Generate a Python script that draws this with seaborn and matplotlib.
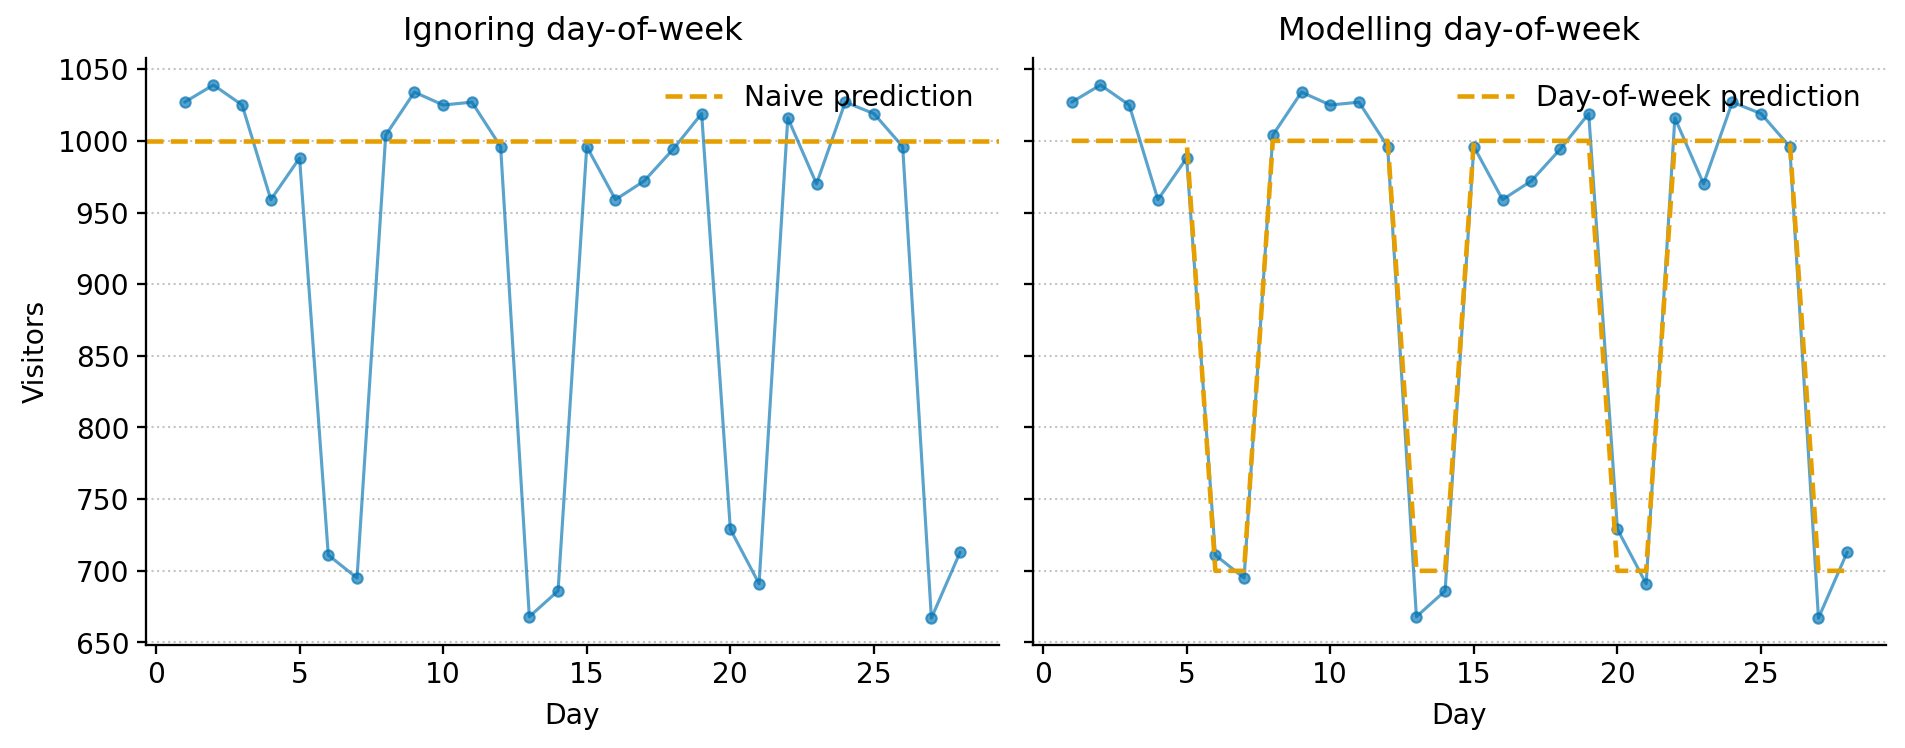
import matplotlib
matplotlib.use("Agg")
import matplotlib.pyplot as plt
import seaborn as sns
import pandas as pd

# visitors per day
days = list(range(1, 29))
visitors = [1027, 1039, 1025, 959, 988, 711, 695, 1004, 1034, 1025, 1027, 996,
            668, 686, 996, 959, 972, 994, 1019, 729, 691, 1016, 970, 1027,
            1019, 996, 667, 713]
naive_pred = [1000] * 28
dow_pred = [1000, 1000, 1000, 1000, 1000, 700, 700,
            1000, 1000, 1000, 1000, 1000, 700, 700,
            1000, 1000, 1000, 1000, 1000, 700, 700,
            1000, 1000, 1000, 1000, 1000, 700, 700]
titles = ["Ignoring day-of-week", "Modelling day-of-week"]
pred_labels = ["Naive prediction", "Day-of-week prediction"]

df = pd.DataFrame({"Day": days, "Visitors": visitors, "dow": dow_pred})

sns.set_style("ticks", {"axes.edgecolor": "black", "text.color": "black",
                        "axes.labelcolor": "black", "xtick.color": "black",
                        "ytick.color": "black"})
plt.rcParams["font.family"] = ["DejaVu Sans"]

blue = "#0072B2"
orange = "#E69F00"

fig, axes = plt.subplots(1, 2, figsize=(12.7, 4.987), dpi=150, sharey=True)
fig.subplots_adjust(left=0.0766, right=0.990, bottom=0.138, top=0.922, wspace=0.04)

for ax, title in zip(axes, titles):
    sns.lineplot(data=df, x="Day", y="Visitors", ax=ax, color=blue, alpha=0.65,
                 marker="o", markersize=5, linewidth=1.5, markeredgewidth=1.0,
                 markeredgecolor=blue)
    ax.set_title(title, fontsize=15.5, pad=9)
    ax.set_xlabel("Day", fontsize=13.5, labelpad=6)
    ax.tick_params(labelsize=13.5, width=1.1, length=4.5)
    ax.yaxis.grid(True, linestyle=":", color="#c4c4c4", linewidth=1.0)
    sns.despine(ax=ax)

# naive: one flat level across the whole axis
axes[0].axhline(naive_pred[0], color=orange, linestyle="--", linewidth=2.2,
                label=pred_labels[0])
sns.lineplot(data=df, x="Day", y="dow", ax=axes[1], color=orange, linestyle="--",
             linewidth=2.2, label=pred_labels[1])

for ax in axes:
    ax.legend(loc="upper right", frameon=False, fontsize=13.5)
    for s in ax.spines.values():
        s.set_linewidth(1.1)

axes[0].set_ylabel("Visitors", fontsize=13.5)
axes[1].set_ylabel("")

fig.savefig("out.png", dpi=150)
